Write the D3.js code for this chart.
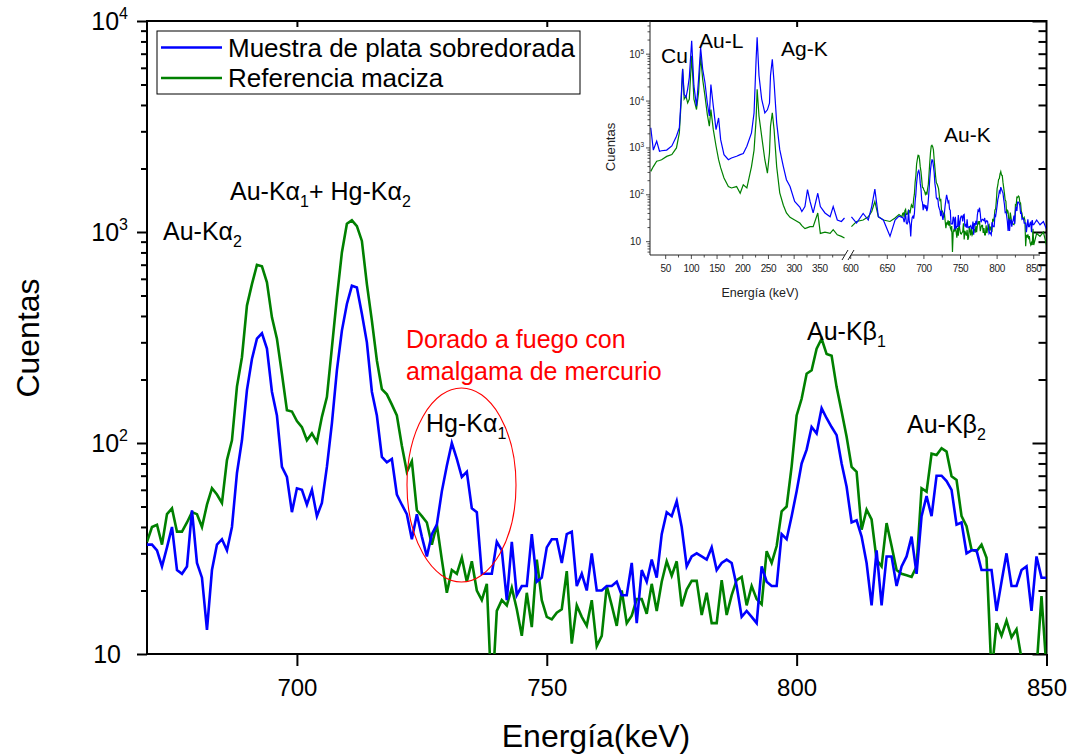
<!DOCTYPE html>
<html>
<head>
<meta charset="utf-8">
<script src="https://cdn.jsdelivr.net/npm/d3@7"></script>
<style>
  body { margin: 0; background: #fff; }
  text { font-family: "Liberation Sans", Arial, sans-serif; }
</style>
</head>
<body>
<svg id="chart" width="1078" height="755"></svg>
<script>
// ---- main spectrum, 1 keV channels from 670 to 850 keV ----
var energy = d3.range(670, 851);
var muestra = [
  33, 33, 31, 26, 32, 40, 25, 24, 26, 48,        // 670
  27, 23, 13, 25, 33, 35, 31, 40, 72, 103,       // 680
  178, 250, 312, 331, 280, 175, 135, 77, 69, 47, // 690
  61, 60, 51, 60, 45, 52, 77, 124, 221, 341,     // 700
  456, 556, 546, 410, 300, 175, 135, 86, 81, 84, // 710
  57, 51, 46, 35, 46, 36, 29, 37, 41, 59,        // 720
  78, 100, 84, 69, 73, 49, 47, 24, 24, 24,       // 730
  34, 31, 18, 34, 19, 21, 21, 37, 22, 23,        // 740
  32, 35, 35, 27, 37, 38, 21, 24, 20, 30,        // 750
  20, 20, 21, 21, 22, 19, 19, 27, 14, 25,        // 760
  22, 28, 23, 37, 47, 45, 53, 40, 26, 29,        // 770
  30, 29, 28, 32, 25, 27, 28, 27, 21, 15,        // 780
  16, 15, 14, 26, 22, 21, 21, 37, 35, 45,        // 790
  59, 80, 93, 119, 111, 146, 131, 119, 109, 80,  // 800
  62, 42, 43, 36, 27, 17, 31, 17, 29, 29,        // 810
  21, 26, 29, 36, 24, 45, 56, 45, 70, 70,        // 820
  66, 60, 41, 42, 30, 31, 31, 25, 25, 25,        // 830
  16, 22, 30, 21, 21, 25, 26, 16, 29, 23,        // 840
  23                                             // 850
];
var referencia = [
  34, 40, 41, 33, 46, 49, 38, 38, 42, 47,                    // 670
  46, 40, 51, 61, 57, 52, 83, 103, 185, 255,                 // 680
  448, 566, 698, 688, 577, 394, 312, 213, 143, 141,          // 690
  127, 119, 103, 111, 101, 133, 165, 283, 489, 800,          // 700
  1094, 1136, 1067, 907, 566, 380, 246, 180, 170, 152,       // 710
  135, 97, 73, 82, 48, 45, 42, 33, 41, 28,                   // 720
  19.5, 25, 24, 28.6, 22, 27.5, 20, 18, 21.5, 6,             // 730
  16, 18, 17, 20.6, 16.3, 12.2, 19.5, 13.4, 28, 18,          // 740
  15, 14.6, 15.7, 16.3, 24.7, 11.2, 17, 15, 13.6, 18,        // 750
  10.9, 12.2, 21, 17, 13.6, 20, 14, 15.2, 18.2, 18.2,        // 760
  15.5, 21.5, 16, 22, 27.5, 23.5, 27.5, 16.8, 20.2, 22.2,    // 770
  22.2, 15.3, 19.5, 14, 14, 22.4, 15.3, 19, 22.4, 23.2,      // 780
  17, 21, 18.2, 17.2, 30.7, 27, 32.5, 47.4, 50, 77.5,        // 790
  135, 162, 213, 221, 280, 312, 264, 259, 184, 141,          // 800
  107, 77, 73, 38.8, 48.3, 43.4, 28, 26, 41.7, 32.5,         // 810
  25, 24, 23.6, 23.2, 26, 61, 58.8, 89, 87.8, 94.5,          // 820
  91, 69.5, 66.8, 45, 40.3, 31.2, 30.7, 33, 28.6, 8,         // 830
  14, 12.2, 14.4, 12, 13.1, 9.5, 8.5, 9.5, 8.5, 18.8,        // 840
  8.5                                                        // 850
];
var seriesNames = ["Muestra de plata sobredorada", "Referencia maciza"];
var seriesColors = ["#0000ff", "#008000"];
var xTicks = [700, 750, 800, 850];
var yTicks = [10, 100, 1000, 10000];

// ---- inset, low-energy part (20-400 keV) ----
var insetLowEnergy = [21, 26, 32.5, 38, 42, 52, 62, 71, 76.6, 80, 83, 86, 89.5, 92.8, 96, 100.6,
  105, 110, 114, 118, 122, 126.5, 131, 135, 138, 142.7, 148, 153, 157, 163.5, 172, 178, 188,
  195, 201, 208, 217, 222, 226, 228, 231.6, 236.8, 243, 248, 252, 254, 257.5, 261, 266, 272,
  279, 285, 292, 301, 311, 315, 321, 326, 331, 337, 346, 351, 360, 370, 376, 384, 392, 398];
var insetLowMuestra = [2700, 900, 1400, 850, 870, 900, 1100, 1780, 2700, 11000, 48000, 14000,
  12000, 18000, 32000, 194000, 21000, 7800, 29000, 139000, 48000, 24600, 9100, 4800, 22600,
  7800, 2450, 4360, 1500, 720, 560, 610, 665, 720, 760, 1090, 2100, 5600, 78000, 230000, 35000,
  11000, 5600, 6500, 9000, 35000, 78000, 24600, 3470, 920, 400, 210, 150, 72, 55, 44, 56, 129,
  72, 41, 108, 56, 41, 34, 56, 29, 27, 32];
var insetLowReferencia = [316, 400, 520, 540, 560, 660, 720, 1000, 2100, 9100, 49000, 11000,
  12700, 9100, 11000, 92000, 11000, 6600, 15000, 92000, 29000, 12700, 5200, 2900, 6600, 2450,
  1100, 560, 380, 228, 150, 140, 150, 108, 163, 140, 400, 900, 4100, 17800, 4800, 1780, 560, 290,
  780, 2900, 5600, 2450, 400, 110, 60, 41, 33, 29, 25, 22, 19, 20, 21, 21, 41, 15, 16, 15, 18,
  14, 13, 12];

// ---- inset, high-energy part (600-868 keV): extra channels around the main range ----
var insetHeadEnergy = [601, 608, 617, 624, 628.7, 633, 637.8, 644.6, 653.7, 660.6, 666];
var insetHeadMuestra = [34, 25, 40, 29, 56, 132, 34, 29, 13, 29, 35];
var insetHeadReferencia = [21, 27, 29, 34, 44, 72, 34, 29, 27, 32, 38];
var insetTailEnergy = [854, 858.6, 863.2, 867.8];
var insetTailMuestra = [29, 23, 27, 18];
var insetTailReferencia = [15, 13, 16, 8];

var insetLowTicks = [50, 100, 150, 200, 250, 300, 350];
var insetHighTicks = [600, 650, 700, 750, 800, 850];
var insetYTicks = [10, 100, 1000, 10000, 100000];

var svg = d3.select("#chart");
var defs = svg.append("defs");

function richText(g, x, y, parts, size, fill) {
  var t = g.append("text").attr("x", x).attr("y", y)
    .attr("font-size", size).attr("fill", fill || "#000");
  var shift = 0;
  parts.forEach(function(p) {
    var s = 0, fs = size;
    if (p[1] == "sub") { s = Math.round(size * 0.28); fs = size * 0.64; }
    t.append("tspan").attr("dy", s - shift).attr("font-size", fs).text(p[0]);
    shift = s;
  });
  return t;
}

// ================= main plot =================
var m = {left: 147, right: 1046.5, top: 21, bottom: 654};
var x = d3.scaleLinear().domain([670, 850]).range([m.left, m.right]);
var y = d3.scaleLog().domain([10, 10000]).range([m.bottom, m.top]);

defs.append("clipPath").attr("id", "clipMain")
  .append("rect").attr("x", m.left).attr("y", m.top)
  .attr("width", m.right - m.left).attr("height", m.bottom - m.top);

var minorY = [];
[10, 100, 1000].forEach(function(d) {
  for (var k = 2; k < 10; k++) minorY.push(d * k);
});

function noDomain(g) { g.select(".domain").remove(); }

// left axis: ticks outward
svg.append("g").attr("transform", "translate(" + m.left + ",0)")
  .call(d3.axisLeft(y).tickValues(minorY).tickSize(6).tickFormat("")).call(noDomain);
svg.append("g").attr("transform", "translate(" + m.left + ",0)")
  .call(d3.axisLeft(y).tickValues(yTicks).tickSize(10).tickFormat("")).call(noDomain);
// right axis: ticks inward
svg.append("g").attr("transform", "translate(" + m.right + ",0)")
  .call(d3.axisRight(y).tickValues(minorY).tickSize(-8).tickFormat("")).call(noDomain);
svg.append("g").attr("transform", "translate(" + m.right + ",0)")
  .call(d3.axisRight(y).tickValues(yTicks).tickSize(-14).tickFormat("")).call(noDomain);
// bottom axis
svg.append("g").attr("transform", "translate(0," + m.bottom + ")")
  .call(d3.axisBottom(x).tickValues(xTicks).tickSize(12).tickPadding(13).tickFormat(d3.format("d")))
  .call(function(g) {
    noDomain(g);
    g.selectAll("text").attr("font-size", 24).attr("fill", "#000")
      .attr("font-family", "Liberation Sans, Arial, sans-serif");
  });
// top axis: short inward ticks
svg.append("g").attr("transform", "translate(0," + m.top + ")")
  .call(d3.axisTop(x).tickValues([700, 750, 800]).tickSize(-6).tickFormat("")).call(noDomain);
svg.selectAll(".tick line").attr("stroke", "#000").attr("stroke-width", 2);

svg.append("rect").attr("x", m.left).attr("y", m.top)
  .attr("width", m.right - m.left).attr("height", m.bottom - m.top)
  .attr("fill", "none").attr("stroke", "#000").attr("stroke-width", 2);

// y tick labels 10, 10^2 ...
yTicks.forEach(function(v) {
  var e = Math.round(Math.log10(v));
  if (e == 1) {
    svg.append("text").attr("x", 121).attr("y", y(v) + 9)
      .attr("text-anchor", "end").attr("font-size", 25).text("10");
  } else {
    var t = svg.append("text").attr("x", 128).attr("y", y(v) + 9)
      .attr("text-anchor", "end").attr("font-size", 25);
    t.append("tspan").text("10");
    t.append("tspan").attr("dy", -11).attr("font-size", 16).text(e);
  }
});

svg.append("text").attr("x", 596).attr("y", 747).attr("text-anchor", "middle")
  .attr("font-size", 32).text("Energía(keV)");
svg.append("text").attr("transform", "translate(39,338) rotate(-90)")
  .attr("text-anchor", "middle").attr("font-size", 32).text("Cuentas");

var mainLine = d3.line()
  .x(function(d) { return x(d[0]); })
  .y(function(d) { return y(d[1]); });

var plot = svg.append("g").attr("clip-path", "url(#clipMain)");
[[referencia, seriesColors[1]], [muestra, seriesColors[0]]].forEach(function(s) {
  var pts = energy.map(function(e, j) { return [e, s[0][j]]; });
  plot.append("path").datum(pts)
    .attr("d", mainLine)
    .attr("fill", "none")
    .attr("stroke", s[1])
    .attr("stroke-width", 2.6);
});

// legend
var leg = svg.append("g");
leg.append("rect").attr("x", 157).attr("y", 31).attr("width", 423).attr("height", 63)
  .attr("fill", "#fff").attr("stroke", "#000").attr("stroke-width", 1);
seriesNames.forEach(function(n, i) {
  var ly = 47.5 + i * 30.5;
  leg.append("line").attr("x1", 161).attr("x2", 222).attr("y1", ly).attr("y2", ly)
    .attr("stroke", seriesColors[i]).attr("stroke-width", 2.6);
  leg.append("text").attr("x", 228).attr("y", ly + 9).attr("font-size", 26).text(n);
});

// peak annotations
richText(svg, 163, 240, [["Au-Kα"], ["2", "sub"]], 25);
richText(svg, 230, 200, [["Au-Kα"], ["1", "sub"], ["+ Hg-Kα"], ["2", "sub"]], 25);
richText(svg, 426, 432, [["Hg-Kα"], ["1", "sub"]], 25);
richText(svg, 807, 340, [["Au-Kβ"], ["1", "sub"]], 25);
richText(svg, 907, 433, [["Au-Kβ"], ["2", "sub"]], 25);
svg.append("text").attr("x", 406).attr("y", 348).attr("font-size", 25)
  .attr("fill", "#ff0000").text("Dorado a fuego con");
svg.append("text").attr("x", 406).attr("y", 380).attr("font-size", 25)
  .attr("fill", "#ff0000").text("amalgama de mercurio");
svg.append("ellipse").attr("cx", 461.5).attr("cy", 485).attr("rx", 54.5).attr("ry", 97)
  .attr("fill", "none").attr("stroke", "#ff0000").attr("stroke-width", 1.1);

// ================= inset =================
var ins = svg.append("g");
var ix1 = d3.scaleLinear().domain([19.5, 398]).range([650, 844.5]);
var ix2 = d3.scaleLinear().domain([600, 868]).range([850.7, 1046.9]);
var iy = d3.scaleLog().domain([5.2, 5.1e5]).range([255, 21]);

defs.append("clipPath").attr("id", "clipInset")
  .append("rect").attr("x", 650).attr("y", 21).attr("width", 396).attr("height", 234);

var highEnergy = insetHeadEnergy.concat(energy, insetTailEnergy);
var highMuestra = insetHeadMuestra.concat(muestra, insetTailMuestra);
var highReferencia = insetHeadReferencia.concat(referencia, insetTailReferencia);

function insetPath(xs, es, vals, color) {
  var ln = d3.line().x(function(d) { return xs(d[0]); }).y(function(d) { return iy(d[1]); });
  ins.append("path").datum(es.map(function(e, j) { return [e, vals[j]]; }))
    .attr("d", ln).attr("fill", "none").attr("stroke", color)
    .attr("stroke-width", 1.2).attr("clip-path", "url(#clipInset)");
}
insetPath(ix1, insetLowEnergy, insetLowReferencia, seriesColors[1]);
insetPath(ix1, insetLowEnergy, insetLowMuestra, seriesColors[0]);
insetPath(ix2, highEnergy, highReferencia, seriesColors[1]);
insetPath(ix2, highEnergy, highMuestra, seriesColors[0]);

// inset axes
var insMinor = [];
[1, 10, 100, 1000, 10000, 100000].forEach(function(d) {
  for (var k = 2; k < 10; k++) if (d * k > 5.2 && d * k < 5.1e5) insMinor.push(d * k);
});
function insLine(x1, y1, x2, y2, w) {
  ins.append("line").attr("x1", x1).attr("y1", y1).attr("x2", x2).attr("y2", y2)
    .attr("stroke", "#222").attr("stroke-width", w || 1);
}
insLine(650, 21, 650, 255);
insLine(650, 255, 845, 255);
insLine(851, 255, 1040, 255);
// axis break marks
insLine(842, 260, 848, 250);
insLine(848, 260, 854, 250);

insMinor.forEach(function(v) { insLine(647.5, iy(v), 650, iy(v), 0.8); });
insetYTicks.forEach(function(v) {
  insLine(646, iy(v), 650, iy(v), 0.8);
  var e = Math.round(Math.log10(v));
  var t = ins.append("text").attr("x", e == 1 ? 641 : 644).attr("y", iy(v) + 3.5)
    .attr("text-anchor", "end").attr("font-size", 10).attr("fill", "#222");
  t.append("tspan").text("10");
  if (e > 1) t.append("tspan").attr("dy", -4).attr("font-size", 6.5).text(e);
});
function insetXTicks(xs, ticks) {
  var hi = xs.domain()[1];
  ticks.forEach(function(v) {
    insLine(xs(v), 255, xs(v), 259, 0.8);
    if (v + 25 < hi) insLine(xs(v + 25), 255, xs(v + 25), 257.5, 0.8);
    ins.append("text").attr("x", xs(v)).attr("y", 271.5).attr("text-anchor", "middle")
      .attr("font-size", 10).attr("letter-spacing", -0.4).attr("fill", "#222").text(v);
  });
}
insetXTicks(ix1, insetLowTicks);
insetXTicks(ix2, insetHighTicks);

ins.append("text").attr("x", 760).attr("y", 297).attr("text-anchor", "middle")
  .attr("font-size", 12.5).attr("fill", "#222").text("Energía (keV)");
ins.append("text").attr("transform", "translate(615,147) rotate(-90)")
  .attr("text-anchor", "middle").attr("font-size", 13).attr("fill", "#222").text("Cuentas");

ins.append("text").attr("x", 661).attr("y", 63).attr("font-size", 21).text("Cu");
ins.append("text").attr("x", 699).attr("y", 48).attr("font-size", 21).text("Au-L");
ins.append("text").attr("x", 781).attr("y", 56).attr("font-size", 21).text("Ag-K");
ins.append("text").attr("x", 944).attr("y", 142).attr("font-size", 21).text("Au-K");
</script>
</body>
</html>
